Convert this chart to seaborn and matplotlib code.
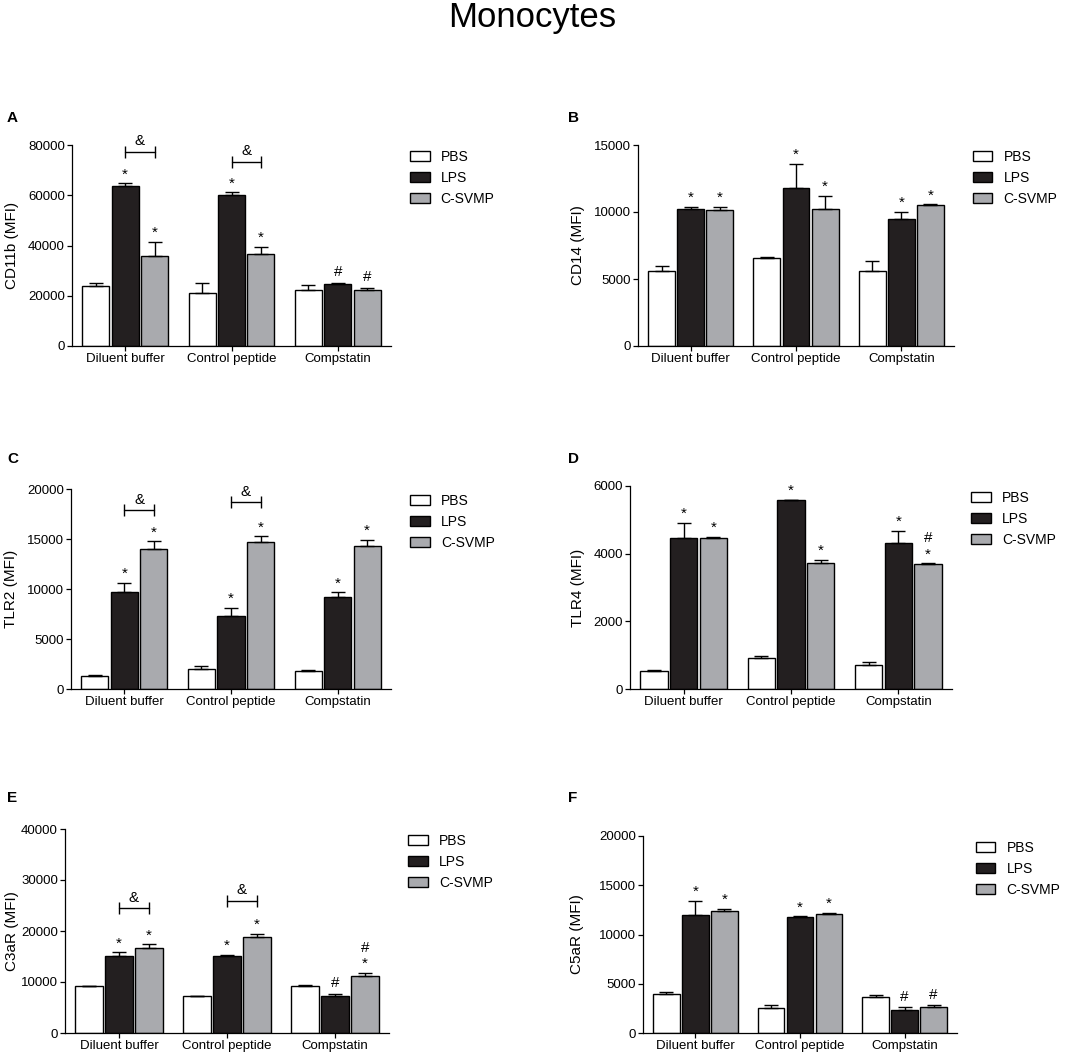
import numpy as np
import pandas as pd
import matplotlib
matplotlib.use('Agg')
import matplotlib.pyplot as plt
import seaborn as sns

# Categories
groups = ['Diluent buffer', 'Control peptide', 'Compstatin']
treatments = ['PBS', 'LPS', 'C-SVMP']
colors = ['#ffffff', '#231f20', '#a9aaae']

# Means / upper SEM, rows = PBS, LPS, C-SVMP ; cols = groups
cd11b_mean = [[24000, 21200, 22400], [63800, 60200, 24500], [36000, 36600, 22300]]
cd11b_err = [[900, 3900, 1800], [900, 1000, 700], [5500, 2900, 900]]
cd14_mean = [[5600, 6590, 5600], [10230, 11770, 9450], [10150, 10200, 10520]]
cd14_err = [[400, 50, 720], [170, 1810, 580], [250, 1000, 50]]
tlr2_mean = [[1330, 1970, 1770], [9700, 7330, 9230], [13960, 14660, 14330]]
tlr2_err = [[70, 300, 100], [930, 770, 430], [800, 600, 600]]
tlr4_mean = [[520, 910, 700], [4470, 5590, 4310], [4460, 3730, 3700]]
tlr4_err = [[50, 60, 90], [440, 10, 360], [30, 90, 10]]
c3ar_mean = [[9250, 7280, 9310], [15080, 15080, 7340], [16590, 18820, 11080]]
c3ar_err = [[60, 60, 70], [720, 200, 400], [790, 650, 660]]
c5ar_mean = [[3920, 2570, 3680], [12030, 11790, 2360], [12360, 12130, 2670]]
c5ar_err = [[200, 270, 200], [1410, 70, 270], [270, 40, 130]]

# significance marks: (group, treatment, symbols from bottom to top)
all_star = [(g, t, '*') for g in range(3) for t in (1, 2)]
cd11b_sig = [(0, 1, '*'), (0, 2, '*'), (1, 1, '*'), (1, 2, '*'), (2, 1, '#'), (2, 2, '#')]
tlr4_sig = all_star[:-1] + [(2, 2, '*#')]
c3ar_sig = [(0, 1, '*'), (0, 2, '*'), (1, 1, '*'), (1, 2, '*'), (2, 1, '#'), (2, 2, '*#')]
c5ar_sig = [(0, 1, '*'), (0, 2, '*'), (1, 1, '*'), (1, 2, '*'), (2, 1, '#'), (2, 2, '#')]

# "&" brackets (LPS vs C-SVMP) heights, per group
cd11b_amp = [77300, 73400]
tlr2_amp = [17900, 18700]
c3ar_amp = [24460, 25900]

sns.set_style('ticks')
plt.rcParams['font.family'] = ['Liberation Sans', 'DejaVu Sans']
for key in ['text.color', 'axes.labelcolor', 'xtick.color', 'ytick.color', 'axes.edgecolor']:
    plt.rcParams[key] = 'black'
plt.rcParams['axes.linewidth'] = 0.9
plt.rcParams['xtick.major.width'] = 0.9
plt.rcParams['ytick.major.width'] = 0.9

W, H = 1084, 1057
fig = plt.figure(figsize=(W / 100, H / 100), dpi=100)


def px_box(left, right, top, bottom):
    return [left / W, 1 - bottom / H, (right - left) / W, (bottom - top) / H]


# letter, ylabel, data, ymax, ystep, marks, brackets, axes box (px), letter pos (px), ylabel centre x (px)
panels = [
    ('A', 'CD11b (MFI)', cd11b_mean, cd11b_err, 80000, 20000, cd11b_sig, cd11b_amp,
     (72, 391, 145, 346), (7, 118), 12),
    ('B', 'CD14 (MFI)', cd14_mean, cd14_err, 15000, 5000, all_star, [],
     (638, 954, 145, 346), (568, 118), 578),
    ('C', 'TLR2 (MFI)', tlr2_mean, tlr2_err, 20000, 5000, all_star, tlr2_amp,
     (71, 391, 489, 689), (7, 459), 11),
    ('D', 'TLR4 (MFI)', tlr4_mean, tlr4_err, 6000, 2000, tlr4_sig, [],
     (630, 952, 486, 689), (568, 459), 578),
    ('E', 'C3aR (MFI)', c3ar_mean, c3ar_err, 40000, 10000, c3ar_sig, c3ar_amp,
     (65, 389, 829, 1033), (7, 798), 12),
    ('F', 'C5aR (MFI)', c5ar_mean, c5ar_err, 20000, 5000, c5ar_sig, [],
     (643, 957, 836, 1033), (568, 798), 577),
]

for letter, ylabel, mean, err, ymax, ystep, sig, amp, pbox, lpos, ylx in panels:
    ax = fig.add_axes(px_box(*pbox))
    df = pd.DataFrame({
        'group': np.tile(groups, 3),
        'treatment': np.repeat(treatments, 3),
        'mfi': np.ravel(mean),
    })
    sns.barplot(data=df, x='group', y='mfi', hue='treatment', order=groups,
                hue_order=treatments, palette=colors, saturation=1,
                width=0.83, gap=0.08, edgecolor='black', linewidth=1.0,
                errorbar=None, ax=ax)

    # upper error bars
    bar_conts = list(ax.containers)[:3]
    centers = []
    tops = []
    for i, cont in enumerate(bar_conts):
        xs = [b.get_x() + b.get_width() / 2 for b in cont]
        centers.append(xs)
        tops.append(np.array(mean[i]) + np.array(err[i]))
        ax.errorbar(xs, mean[i], yerr=[np.zeros(3), err[i]], fmt='none',
                    ecolor='black', elinewidth=1.0, capsize=5, capthick=1.0, zorder=3)

    # significance symbols
    for g, t, syms in sig:
        off = 3.5
        for s in syms:
            if s == '*':
                ax.annotate('*', xy=(centers[t][g], tops[t][g]), xytext=(0, off),
                            textcoords='offset points', ha='center', va='baseline', fontsize=11)
                off += 11
            else:
                ax.annotate('#', xy=(centers[t][g], tops[t][g]), xytext=(0, off + 1),
                            textcoords='offset points', ha='center', va='baseline', fontsize=11)
                off += 12

    # & brackets between LPS and C-SVMP
    for g, yb in enumerate(amp):
        x1, x2 = centers[1][g], centers[2][g]
        ax.plot([x1, x2], [yb, yb], color='black', lw=1.0)
        ax.plot([x1, x2], [yb, yb], ls='none', marker='|', ms=8, mew=1.0, color='black')
        ax.annotate('&', xy=((x1 + x2) / 2, yb), xytext=(0, 2.5), textcoords='offset points',
                    ha='center', va='bottom', fontsize=11)

    ax.set_ylim(0, ymax)
    ax.set_yticks(np.arange(0, ymax + 1, ystep))
    ax.set_xlim(-0.5, 2.5)
    ax.set_xlabel('')
    ax.set_ylabel(ylabel, fontsize=11)
    ax.yaxis.set_label_coords((ylx + 7 - pbox[0]) / (pbox[1] - pbox[0]), 0.5)
    ax.tick_params(axis='both', labelsize=9.5, length=3.6, pad=1.5)
    sns.despine(ax=ax)

    sns.move_legend(ax, 'upper left', bbox_to_anchor=(1.06, 0.975), frameon=False, title=None,
                    fontsize=10, handlelength=1.4, handleheight=0.7, handletextpad=0.8,
                    labelspacing=0.5, borderaxespad=0, borderpad=0)

    fig.text(lpos[0] / W, 1 - lpos[1] / H, letter, ha='left', va='center',
             fontsize=11, fontweight='bold')

fig.text(532 / W, 1 - 17 / H, 'Monocytes', ha='center', va='center', fontsize=25)

fig.savefig('out.png', dpi=100, facecolor='white')
